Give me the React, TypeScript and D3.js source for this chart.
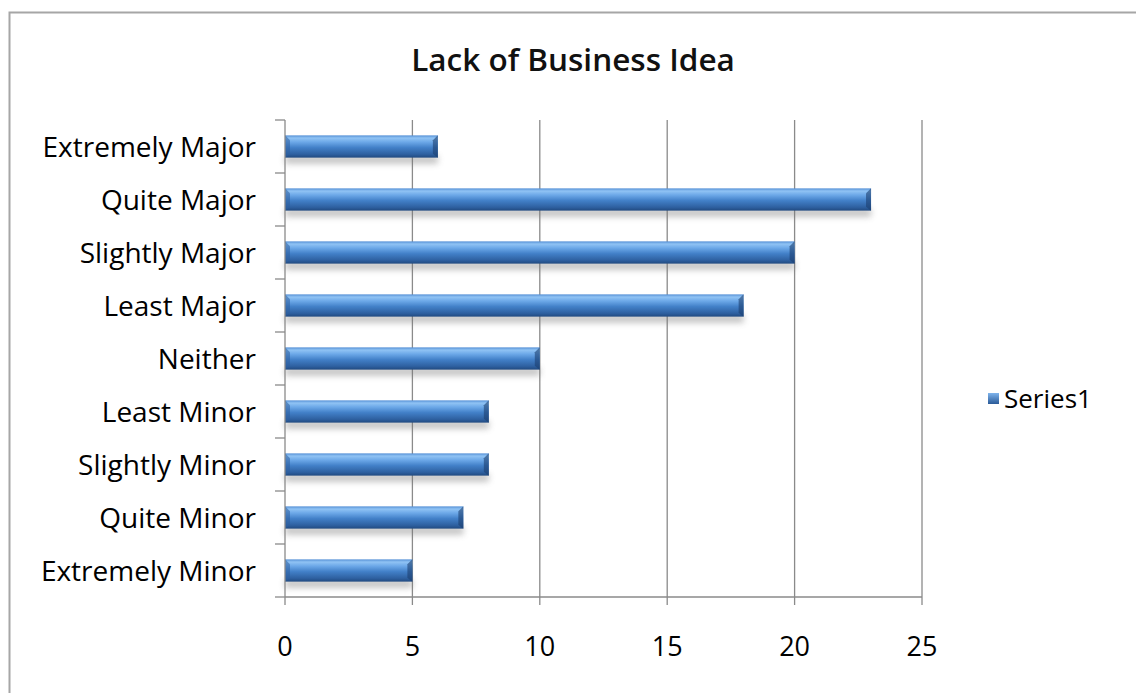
import React from "react";
import * as d3 from "d3";

const categories = [
  "Extremely Major",
  "Quite Major",
  "Slightly Major",
  "Least Major",
  "Neither",
  "Least Minor",
  "Slightly Minor",
  "Quite Minor",
  "Extremely Minor",
];
const values = [6, 23, 20, 18, 10, 8, 8, 7, 5];
const xTicks = [0, 5, 10, 15, 20, 25];
const title = "Lack of Business Idea";
const seriesName = "Series1";

const W = 1136;
const H = 693;
const plot = { left: 285, right: 922, top: 120, bottom: 597 };
const FONT = "'Open Sans', Lato, sans-serif";

export default function App() {
  const x = d3.scaleLinear().domain([0, 25]).range([plot.left, plot.right]);
  const y = d3
    .scaleBand<string>()
    .domain(categories)
    .range([plot.top, plot.bottom])
    .paddingInner(0.58)
    .paddingOuter(0.29);
  const band = (plot.bottom - plot.top) / categories.length;
  const bh = y.bandwidth();

  return (
    <svg
      width={W}
      height={H}
      style={{ position: "fixed", left: 0, top: 0, background: "#fff" }}
    >
      <defs>
        <linearGradient id="barG" x1="0" y1="0" x2="0" y2="1">
          <stop offset="0" stopColor="#5590d6" />
          <stop offset="0.12" stopColor="#90c3f4" />
          <stop offset="0.3" stopColor="#6ca8e8" />
          <stop offset="0.55" stopColor="#4280c8" />
          <stop offset="0.85" stopColor="#2e60a0" />
          <stop offset="1" stopColor="#214a80" />
        </linearGradient>
        <linearGradient id="legG" x1="0" y1="0" x2="0" y2="1">
          <stop offset="0" stopColor="#7fb4ec" />
          <stop offset="1" stopColor="#2a5a98" />
        </linearGradient>
        <filter id="shadow" x="-10%" y="-50%" width="120%" height="250%">
          <feGaussianBlur stdDeviation="3" />
        </filter>
      </defs>
      <rect x={9.5} y={12.5} width={1140} height={700} fill="#fff" stroke="#a6a6a6" strokeWidth={2} />
      <text
        x={573}
        y={71}
        textAnchor="middle"
        fontFamily={FONT}
        fontWeight={600}
        fontSize={31.5}
        fill="#111"
      >
        {title}
      </text>
      {/* gridlines */}
      {xTicks.slice(1).map((t) => (
        <line
          key={"g" + t}
          x1={x(t)}
          x2={x(t)}
          y1={plot.top}
          y2={plot.bottom + 8}
          stroke="#8a8a8a"
          strokeWidth={1.3}
        />
      ))}
      {/* shadows */}
      {categories.map((c, i) => (
        <rect
          key={"s" + c}
          x={x(0)}
          y={(y(c) as number) + bh - 2}
          width={x(values[i]) - x(0)}
          height={8}
          fill="#777"
          opacity={0.45}
          filter="url(#shadow)"
        />
      ))}
      {/* bars */}
      {categories.map((c, i) => {
        const y0 = y(c) as number;
        const x0 = x(0);
        const x1 = x(values[i]);
        return (
          <g key={"b" + c}>
            <rect x={x0} y={y0} width={x1 - x0} height={bh} fill="url(#barG)" />
            <path
              d={`M${x0},${y0}L${x0 + 5},${y0 + 5}L${x0 + 5},${y0 + bh - 4}L${x0},${y0 + bh}Z`}
              fill="#2e5f9f"
              opacity={0.55}
            />
            <path
              d={`M${x1},${y0}L${x1 - 5},${y0 + 5}L${x1 - 5},${y0 + bh - 4}L${x1},${y0 + bh}Z`}
              fill="#1c3f70"
              opacity={0.6}
            />
          </g>
        );
      })}
      {/* axes */}
      <line x1={plot.left} x2={plot.right} y1={plot.bottom} y2={plot.bottom} stroke="#8a8a8a" strokeWidth={1.3} />
      <line x1={plot.left} x2={plot.left} y1={plot.top} y2={plot.bottom + 8} stroke="#8a8a8a" strokeWidth={1.3} />
      {d3.range(categories.length + 1).map((k) => (
        <line
          key={"yt" + k}
          x1={plot.left - 10}
          x2={plot.left}
          y1={plot.top + k * band}
          y2={plot.top + k * band}
          stroke="#8a8a8a"
          strokeWidth={1.3}
        />
      ))}
      {xTicks.map((t) => (
        <text
          key={"xl" + t}
          x={x(t)}
          y={656}
          textAnchor="middle"
          fontFamily={FONT}
          fontSize={27}
          fill="#000"
        >
          {t}
        </text>
      ))}
      {categories.map((c) => (
        <text
          key={"yl" + c}
          x={256}
          y={(y(c) as number) + bh / 2}
          dy="0.36em"
          textAnchor="end"
          fontFamily={FONT}
          fontSize={28}
          fill="#000"
        >
          {c}
        </text>
      ))}
      {/* legend */}
      <rect x={988} y={393} width={11} height={11} fill="url(#legG)" />
      <text x={1004} y={398.5} dy="0.36em" fontFamily={FONT} fontSize={26} fill="#000">
        {seriesName}
      </text>
    </svg>
  );
}
